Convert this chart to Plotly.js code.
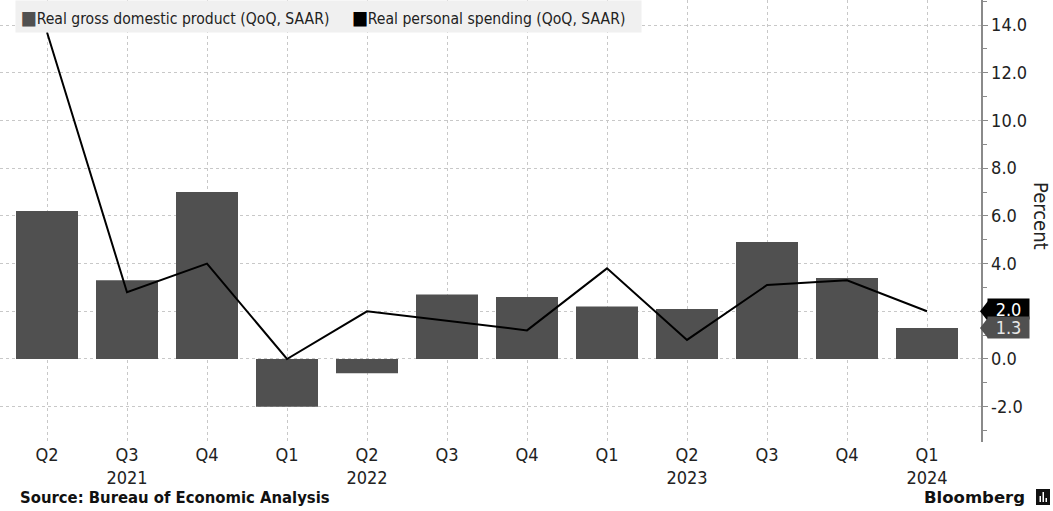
<!DOCTYPE html>
<html>
<head>
<meta charset="utf-8">
<script src="https://cdn.plot.ly/plotly-3.0.1.min.js"></script>
<style>
html,body{margin:0;padding:0;background:#fff;}
#chart{width:1053px;height:511px;}
</style>
</head>
<body>
<div id="chart"></div>
<script>
// ---- data ----
var periods = ['2021Q2','2021Q3','2021Q4','2022Q1','2022Q2','2022Q3','2022Q4','2023Q1','2023Q2','2023Q3','2023Q4','2024Q1'];
var quarterLabels = ['Q2','Q3','Q4','Q1','Q2','Q3','Q4','Q1','Q2','Q3','Q4','Q1'];
var yearLabels = ['','2021','','','2022','','','','2023','','','2024'];
var gdp = [6.2, 3.3, 7.0, -2.0, -0.6, 2.7, 2.6, 2.2, 2.1, 4.9, 3.4, 1.3];
var spending = [13.7, 2.8, 4.0, 0.0, 2.0, 1.6, 1.2, 3.8, 0.8, 3.1, 3.3, 2.0];
var gdpName = 'Real gross domestic product (QoQ, SAAR)';
var spendName = 'Real personal spending (QoQ, SAAR)';
var yTickVals = [-2, 0, 2, 4, 6, 8, 10, 12, 14];
var yTickText = yTickVals.map(function(v){ return v.toFixed(1); });

var GDP_COLOR = '#505050';
var LINE_COLOR = '#000000';
var FONT = 'DejaVu Sans Condensed, DejaVu Sans, sans-serif';

var tickText = quarterLabels.map(function(q, i){ return yearLabels[i] ? q + '<br>' + yearLabels[i] : q; });

var W = 981, H = 442; // plot area px
function px(x){ return x / W; }
function py(y){ return (H - y) / H; }

var lastGdp = gdp[gdp.length - 1];
var lastSpend = spending[spending.length - 1];
var halfH = 0.43;

var traces = [
  {
    type: 'bar', x: periods, y: gdp, name: gdpName,
    marker: {color: GDP_COLOR, line: {width: 0}}, width: 0.775,
    showlegend: false, hoverinfo: 'skip'
  },
  {
    type: 'scatter', mode: 'lines', x: periods, y: spending, name: spendName,
    line: {color: LINE_COLOR, width: 2}, showlegend: false, hoverinfo: 'skip', cliponaxis: true
  }
];

function tip(v, color){
  return {
    type: 'path', xref: 'paper', yref: 'y', layer: 'above',
    path: 'M ' + px(980) + ',' + v + ' L ' + px(988) + ',' + (v + halfH) + ' L ' + px(988) + ',' + (v - halfH) + ' Z',
    fillcolor: color, line: {width: 0}
  };
}

var shapes = [
  tip(lastSpend, '#000000'),
  tip(lastGdp, GDP_COLOR),
  // Bloomberg logo
  {type:'rect', xref:'paper', yref:'paper', x0:px(1036), x1:px(1050), y0:py(505), y1:py(489), fillcolor:'#111', line:{width:0}},
  {type:'rect', xref:'paper', yref:'paper', x0:px(1039.5), x1:px(1041), y0:py(502), y1:py(496), fillcolor:'#fff', line:{width:0}},
  {type:'rect', xref:'paper', yref:'paper', x0:px(1042.5), x1:px(1044), y0:py(502), y1:py(492), fillcolor:'#fff', line:{width:0}},
  {type:'rect', xref:'paper', yref:'paper', x0:px(1045.5), x1:px(1047), y0:py(502), y1:py(498), fillcolor:'#fff', line:{width:0}}
];

var annotations = [
  {
    xref: 'paper', yref: 'paper', x: px(15), y: 1, xanchor: 'left', yanchor: 'top',
    width: 625, height: 31, align: 'left', bgcolor: '#f0f0f0', borderpad: 0, showarrow: false,
    text: '&nbsp;<span style="color:' + GDP_COLOR + ';font-size:19px">■</span>' + gdpName +
          '&nbsp;&nbsp;&nbsp;&nbsp;&nbsp;<span style="color:' + LINE_COLOR + ';font-size:19px">■</span>' + spendName,
    font: {family: FONT, size: 15.6, color: '#222'}
  },
  {
    xref: 'paper', yref: 'y', x: px(987), y: lastSpend + 0.08, xanchor: 'left', yanchor: 'middle',
    width: 41, height: 20, bgcolor: '#000', borderpad: 0, showarrow: false, align: 'center',
    text: lastSpend.toFixed(1), font: {family: FONT, size: 18, color: '#fff'}
  },
  {
    xref: 'paper', yref: 'y', x: px(987), y: lastGdp, xanchor: 'left', yanchor: 'middle',
    width: 41, height: 21, bgcolor: GDP_COLOR, borderpad: 0, showarrow: false, align: 'center',
    text: lastGdp.toFixed(1), font: {family: FONT, size: 18, color: '#e8e8e8'}
  },
  {
    xref: 'paper', yref: 'paper', x: px(1041), y: py(216), xanchor: 'center', yanchor: 'middle',
    textangle: 90, showarrow: false, text: 'Percent',
    font: {family: FONT, size: 20, color: '#222'}
  },
  {
    xref: 'paper', yref: 'paper', x: px(18), y: py(497), xanchor: 'left', yanchor: 'middle',
    showarrow: false, text: '<b>Source: Bureau of Economic Analysis</b>',
    font: {family: FONT, size: 16.5, color: '#111'}
  },
  {
    xref: 'paper', yref: 'paper', x: px(1027), y: py(497), xanchor: 'right', yanchor: 'middle',
    showarrow: false, text: '<b>Bloomberg</b>',
    font: {family: 'DejaVu Sans, sans-serif', size: 16.5, color: '#111'}
  }
];

var layout = {
  width: 1053, height: 511,
  margin: {l: 0, r: 72, t: 0, b: 69, pad: 0},
  paper_bgcolor: '#ffffff', plot_bgcolor: '#ffffff',
  barmode: 'overlay',
  showlegend: false,
  font: {family: FONT, color: '#222'},
  xaxis: {
    type: 'category', range: [-0.5875, 11.675],
    tickvals: periods, ticktext: tickText,
    showgrid: true, gridcolor: '#c8c8c8', griddash: 'dot', gridwidth: 1,
    showline: false, zeroline: false, ticks: '',
    tickfont: {family: FONT, size: 18, color: '#222'},
    fixedrange: true
  },
  yaxis: {
    side: 'right', range: [-3.48, 15.05],
    tickvals: yTickVals, ticktext: yTickText,
    showgrid: true, gridcolor: '#c8c8c8', griddash: 'dot', gridwidth: 1,
    zeroline: false,
    showline: true, linecolor: '#8a8a8a', linewidth: 1.5,
    ticks: 'outside', ticklen: 5, tickcolor: '#8a8a8a', tickwidth: 1,
    minor: {dtick: 1, tick0: 0, ticks: 'outside', ticklen: 4, tickcolor: '#8a8a8a', showgrid: false},
    tickfont: {family: FONT, size: 18, color: '#222'},
    fixedrange: true
  },
  shapes: shapes,
  annotations: annotations
};

Plotly.newPlot('chart', traces, layout, {staticPlot: true, displayModeBar: false});
</script>
</body>
</html>
